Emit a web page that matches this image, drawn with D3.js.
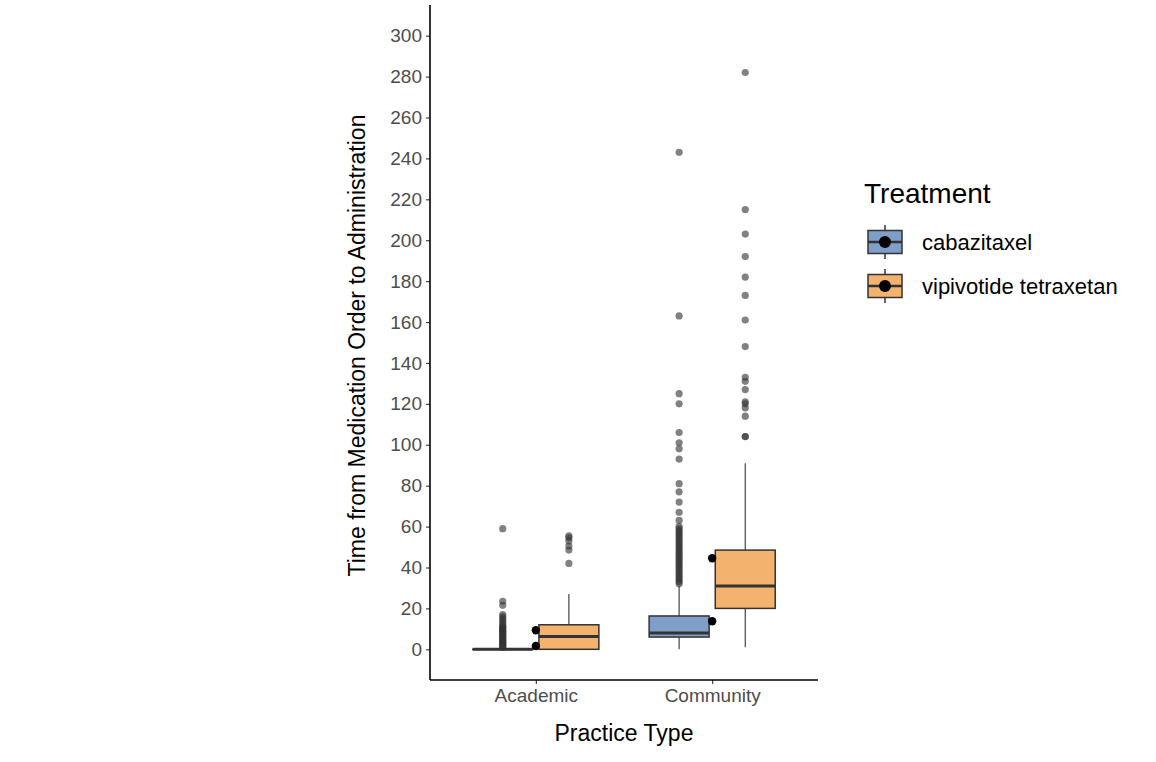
<!DOCTYPE html>
<html>
<head>
<meta charset="utf-8">
<script src="https://cdn.jsdelivr.net/npm/d3@7"></script>
<style>
  body { margin: 0; background: #fff; }
  svg text { font-family: "Liberation Sans", Arial, sans-serif; }
</style>
</head>
<body>
<svg id="chart" width="1156" height="762"></svg>
<script>
// categories and groups
var practiceTypes = ["Academic", "Community"];
var treatments = ["cabazitaxel", "vipivotide tetraxetan"];
var treatmentColors = ["#7f9fc8", "#f4b26f"];

// box stats: [practice, treatment, lower, q1, median, q3, upper]
var boxStats = [
  ["Academic",  "cabazitaxel",            0,  0,  0,    0,   0],
  ["Academic",  "vipivotide tetraxetan",  0,  0,  6.3, 12,  27],
  ["Community", "cabazitaxel",            0,  6,  8,   16.3, 31],
  ["Community", "vipivotide tetraxetan",  1, 20, 31,   48.5, 91]
];

// outliers
var outAcademicCab = [1, 1, 2, 2, 3, 3, 4, 4, 5, 5, 6, 6, 7, 7, 8, 8, 9, 9, 10, 10, 11, 11, 12, 13, 14, 15, 16, 17, 21.5, 23.5, 59];
var outAcademicVip = [42, 48.5, 50.5, 53, 54.5, 55.5];
var outCommunityCab = [32, 33, 34, 35, 36, 37, 38, 39, 40, 41, 42, 43, 44, 45, 46, 47, 48, 49, 50, 51, 52, 53, 54, 55, 56, 57, 58, 59, 60,
  63, 67, 72, 77, 81, 93, 98, 101, 106, 120, 125, 163, 243];
var outCommunityVip = [104, 104, 114, 118, 120, 121, 127, 131, 133, 148, 161, 173, 182, 192, 203, 215, 282];
var outliers = [
  ["Academic", "cabazitaxel", outAcademicCab],
  ["Academic", "vipivotide tetraxetan", outAcademicVip],
  ["Community", "cabazitaxel", outCommunityCab],
  ["Community", "vipivotide tetraxetan", outCommunityVip]
];

// group means (drawn at category centre)
var means = [
  ["Academic", "cabazitaxel", 1.6],
  ["Academic", "vipivotide tetraxetan", 9.3],
  ["Community", "cabazitaxel", 13.7],
  ["Community", "vipivotide tetraxetan", 44.5]
];

var yTicks = d3.range(0, 301, 20);

var svg = d3.select("#chart");
var plotLeft = 430, plotRight = 818, plotTop = 5, plotBottom = 680;

var x = d3.scalePoint().domain(practiceTypes).range([plotLeft, plotRight]).padding(0.6);
var y = d3.scaleLinear().domain([-15, 315]).range([plotBottom, plotTop]);
var color = d3.scaleOrdinal().domain(treatments).range(treatmentColors);
var step = x.step();
var dodge = d3.scalePoint().domain(treatments).range([-0.1875 * step, 0.1875 * step]);
var boxW = 0.34 * step;

function cx(p, t) { return x(p) + dodge(t); }

// whiskers
var gBox = svg.append("g");
boxStats.forEach(function (d) {
  var c = cx(d[0], d[1]);
  gBox.append("line").attr("x1", c).attr("x2", c).attr("y1", y(d[5])).attr("y2", y(d[6]))
    .attr("stroke", "#333").attr("stroke-width", 1.1);
  gBox.append("line").attr("x1", c).attr("x2", c).attr("y1", y(d[2])).attr("y2", y(d[3]))
    .attr("stroke", "#333").attr("stroke-width", 1.1);
});

// outliers
var gOut = svg.append("g");
outliers.forEach(function (o) {
  gOut.selectAll(null).data(o[2]).enter().append("circle")
    .attr("cx", cx(o[0], o[1]))
    .attr("cy", function (v) { return y(v); })
    .attr("r", 3.6)
    .attr("fill", "#333")
    .attr("fill-opacity", 0.62);
});

// boxes
var gRects = svg.append("g");
boxStats.forEach(function (d) {
  var c = cx(d[0], d[1]);
  gRects.append("rect")
    .attr("x", c - boxW / 2).attr("width", boxW)
    .attr("y", y(d[5])).attr("height", Math.max(0.1, y(d[3]) - y(d[5])))
    .attr("fill", color(d[1]))
    .attr("stroke", "#333").attr("stroke-width", 1.5);
  gRects.append("line")
    .attr("x1", c - boxW / 2).attr("x2", c + boxW / 2)
    .attr("y1", y(d[4])).attr("y2", y(d[4]))
    .attr("stroke", "#333").attr("stroke-width", 3);
});

// means
svg.append("g").selectAll("circle")
  .data(means).enter().append("circle")
  .attr("cx", function (d) { return x(d[0]); })
  .attr("cy", function (d) { return y(d[2]); })
  .attr("r", 4.2)
  .attr("fill", "#000");

// axes
var yAxis = svg.append("g").attr("transform", "translate(" + plotLeft + ",0)")
  .call(d3.axisLeft(y).tickValues(yTicks).tickSize(4).tickPadding(4));
yAxis.select(".domain").remove();
yAxis.selectAll(".tick line").attr("stroke", "#333").attr("stroke-width", 1.1);
yAxis.selectAll(".tick text").attr("fill", "#4d4d4d").style("font-size", "19px");
svg.append("line").attr("x1", plotLeft).attr("x2", plotLeft).attr("y1", plotTop).attr("y2", plotBottom)
  .attr("stroke", "#000").attr("stroke-width", 1.6);

var xAxis = svg.append("g").attr("transform", "translate(0," + plotBottom + ")")
  .call(d3.axisBottom(x).tickSize(4).tickPadding(5));
xAxis.select(".domain").remove();
xAxis.selectAll(".tick line").attr("stroke", "#333").attr("stroke-width", 1.1);
xAxis.selectAll(".tick text").attr("fill", "#4d4d4d").style("font-size", "19px");
svg.append("line").attr("x1", plotLeft).attr("x2", plotRight).attr("y1", plotBottom).attr("y2", plotBottom)
  .attr("stroke", "#000").attr("stroke-width", 1.6);

// axis titles
svg.append("text").attr("x", (plotLeft + plotRight) / 2).attr("y", 741)
  .attr("text-anchor", "middle").style("font-size", "23px").attr("fill", "#000")
  .text("Practice Type");
svg.append("text")
  .attr("transform", "translate(365," + ((plotTop + plotBottom) / 2 + 3) + ") rotate(-90)")
  .attr("text-anchor", "middle").style("font-size", "23px").attr("fill", "#000")
  .text("Time from Medication Order to Administration");

// legend
var leg = svg.append("g").attr("transform", "translate(864,0)");
leg.append("text").attr("x", 0).attr("y", 203).style("font-size", "28px").attr("fill", "#000")
  .text("Treatment");
treatments.forEach(function (t, i) {
  var cy = 242 + i * 44;
  var g = leg.append("g");
  g.append("line").attr("x1", 21).attr("x2", 21).attr("y1", cy - 17).attr("y2", cy + 17)
    .attr("stroke", "#333").attr("stroke-width", 1.5);
  g.append("rect").attr("x", 4).attr("y", cy - 11.5).attr("width", 34).attr("height", 23)
    .attr("fill", color(t)).attr("stroke", "#333").attr("stroke-width", 1.5);
  g.append("line").attr("x1", 4).attr("x2", 38).attr("y1", cy).attr("y2", cy)
    .attr("stroke", "#333").attr("stroke-width", 2.5);
  g.append("circle").attr("cx", 21).attr("cy", cy).attr("r", 6).attr("fill", "#000");
  leg.append("text").attr("x", 58).attr("y", cy + 8).style("font-size", "22px").attr("fill", "#000")
    .text(t);
});
</script>
</body>
</html>
